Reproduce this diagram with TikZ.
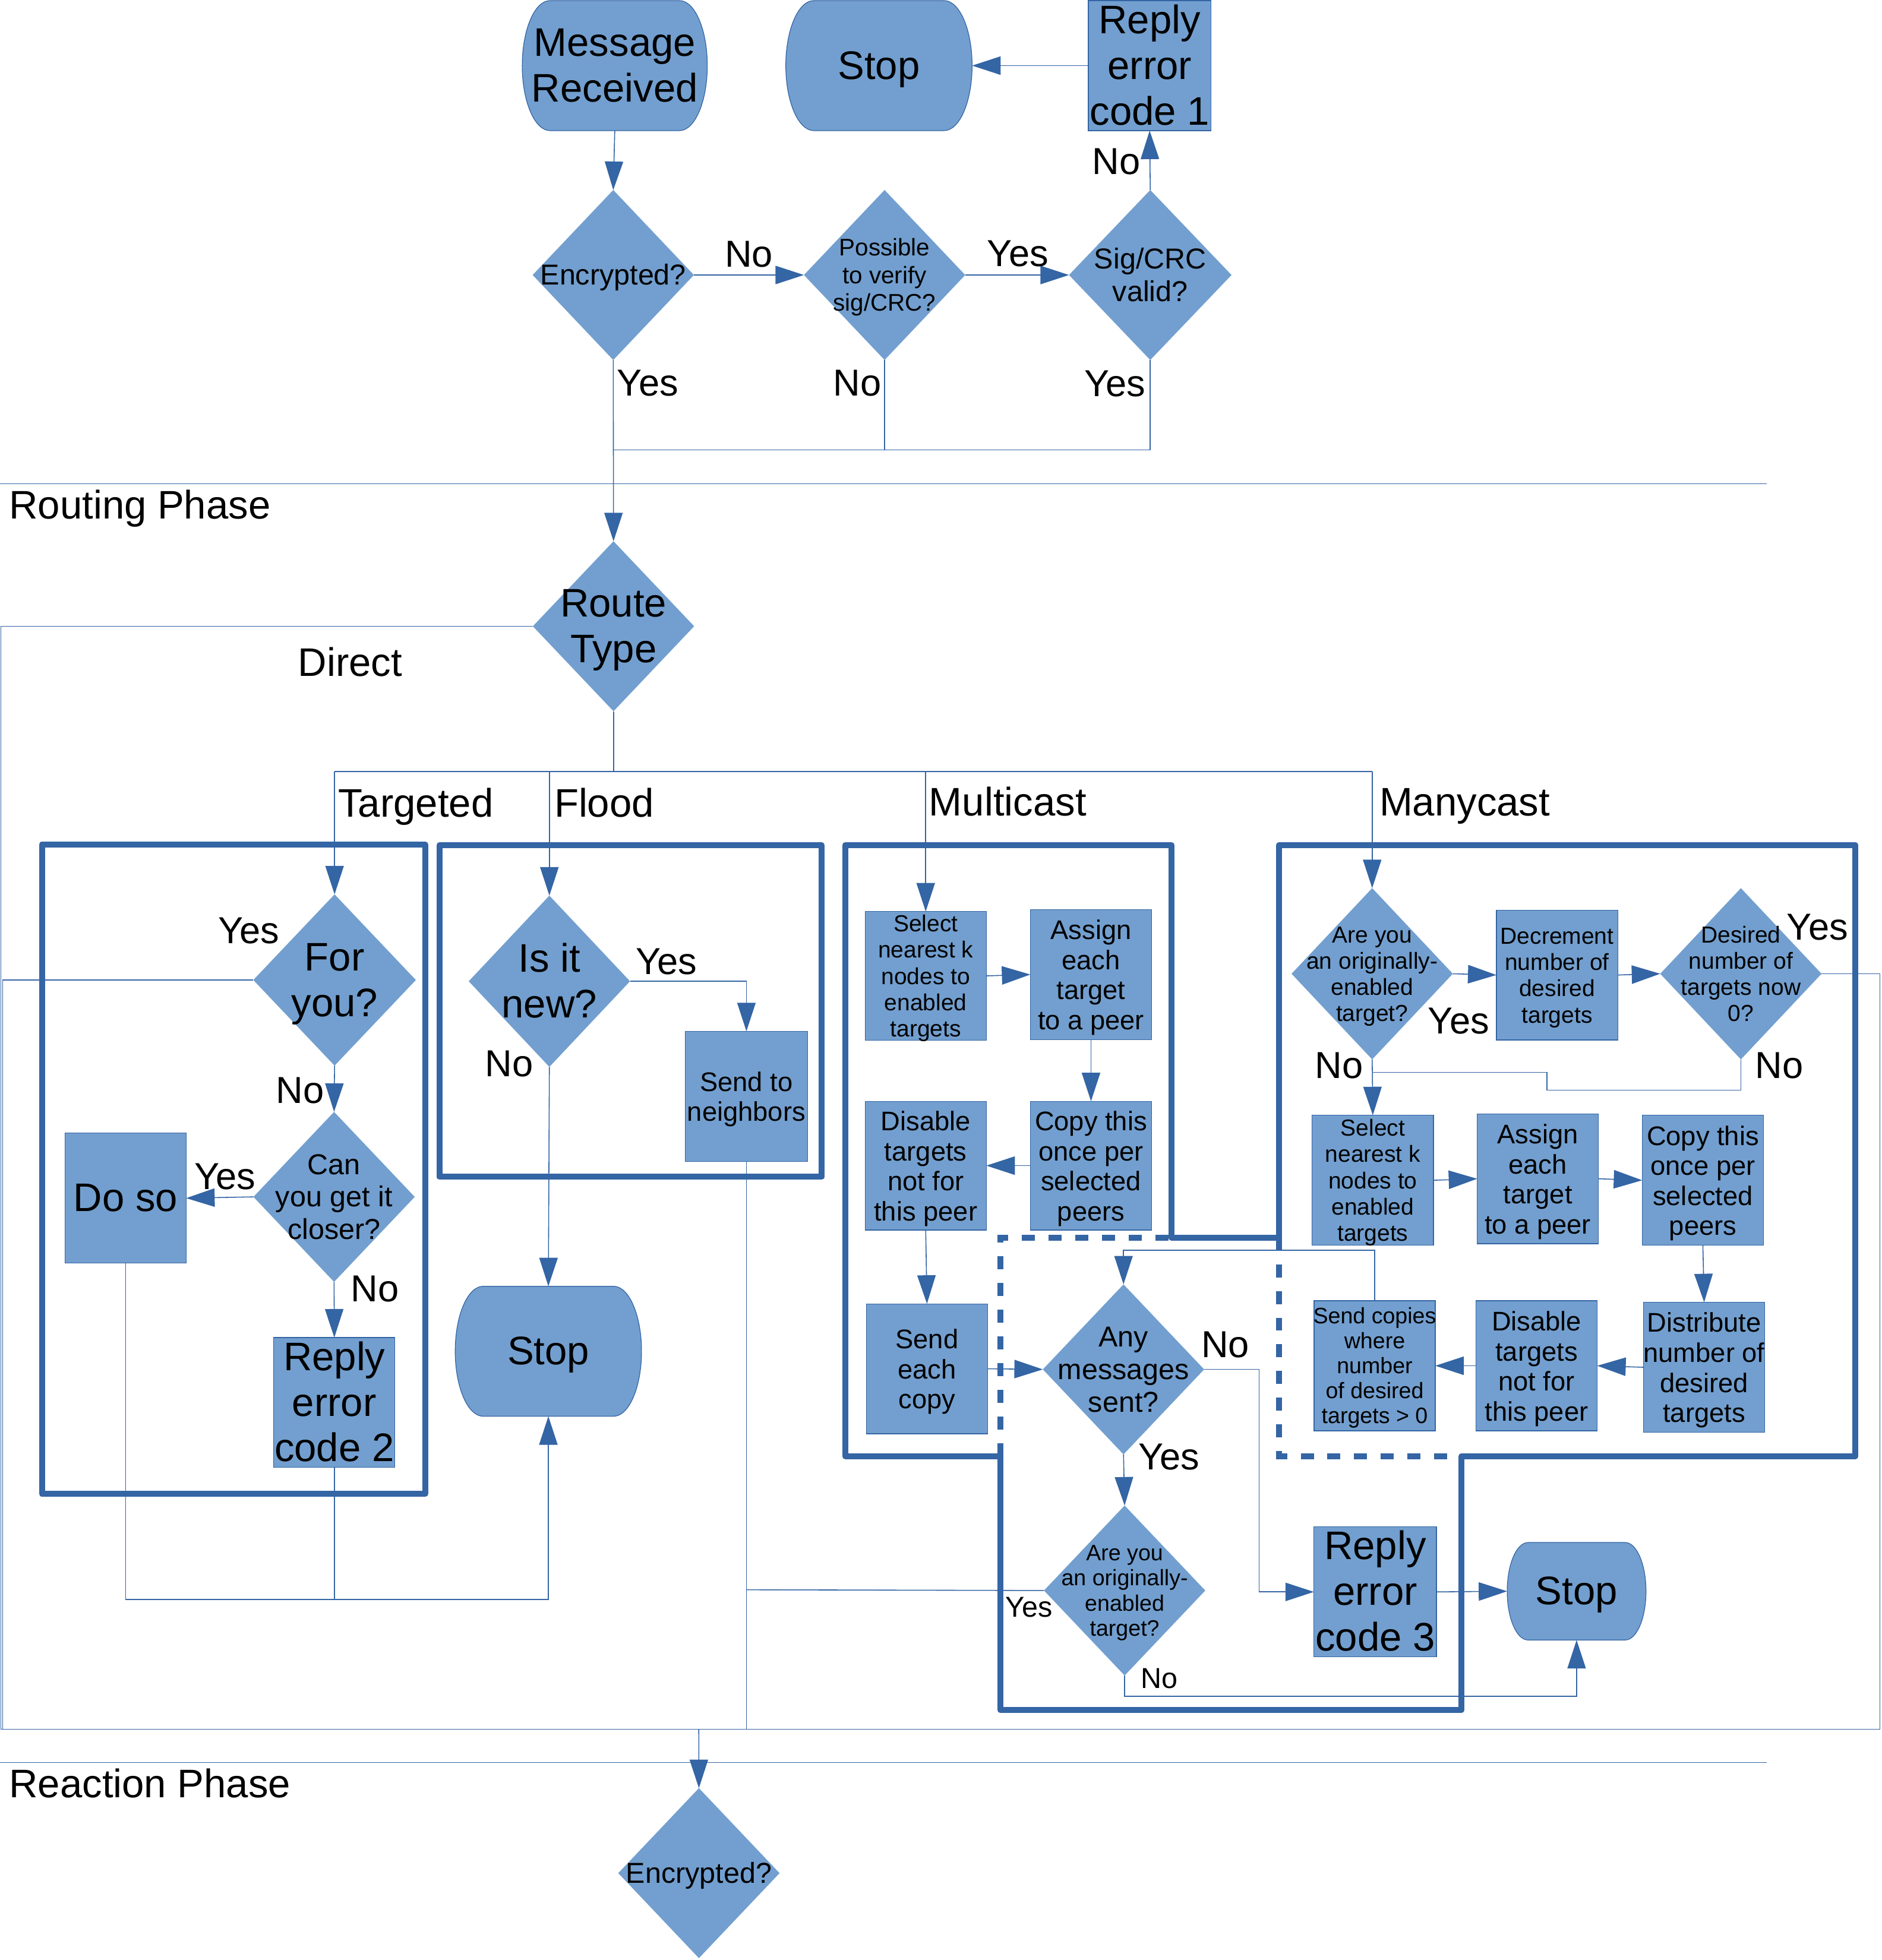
\documentclass[tikz,border=0pt]{standalone}
\usepackage{fontspec}
\setmainfont{Liberation Sans}
\usetikzlibrary{shapes.geometric,arrows.meta}

\definecolor{lofill}{HTML}{729FCF}
\definecolor{loline}{HTML}{3465A4}

% drawing unit
\newlength\U
\setlength\U{0.02105cm}

% centred multi-line text that does not widen its shape
\newcommand\dtext[1]{\raisebox{-0.38em}[0pt][0pt]{\makebox[0pt]{\begin{tabular}{@{}c@{}}#1\end{tabular}}}}

\tikzset{
  fL/.style={font=\fontsize{19.1pt}{21.9pt}\selectfont},
  fY/.style={font=\fontsize{18pt}{21pt}\selectfont},
  fMM/.style={font=\fontsize{13.8pt}{15.6pt}\selectfont},
  fM/.style={font=\fontsize{12.9pt}{14.4pt}\selectfont},
  fP/.style={font=\fontsize{11.5pt}{13.2pt}\selectfont},
  fS/.style={font=\fontsize{11.1pt}{12.6pt}\selectfont},
  fXS/.style={font=\fontsize{10.7pt}{12pt}\selectfont},
  sz/.style 2 args={minimum width=#1\U, minimum height=#2\U},
  box/.style={rectangle, fill=lofill, draw=loline, line width=0.35pt, inner sep=0pt, outer sep=0pt},
  dia/.style={diamond, fill=lofill, inner sep=0pt, outer sep=0pt},
  termfill/.style={fill=lofill, draw=loline, line width=0.35pt},
  termnode/.style={rectangle, inner sep=0pt, outer sep=0pt, fL},
  conn/.style={draw=loline, line width=0.45pt},
  arr/.style={conn, -{Triangle[length=0.48cm, width=0.31cm]}},
  frame/.style={draw=loline, line width=0.1cm, line join=round},
  dframe/.style={draw=loline, line width=0.1cm, dash pattern=on 0.22cm off 0.23cm},
  lbl/.style={inner sep=0pt, anchor=base},
  lblw/.style={inner sep=0pt, anchor=base west},
}

% terminator: name, cx, cy, width, height, text
\newcommand\termnode[6]{%
  \pgfmathsetmacro\TmL{#2-#4/2}%
  \pgfmathsetmacro\TmR{#2+#4/2}%
  \pgfmathsetmacro\TmT{#3-#5/2}%
  \pgfmathsetmacro\TmB{#3+#5/2}%
  \pgfmathsetmacro\TmX{0.15*#4}%
  \pgfmathsetmacro\TmK{0.5523*\TmX}%
  \pgfmathsetmacro\TmKy{0.5523*#5/2}%
  \path[termfill] (\TmL+\TmX,\TmT) -- (\TmR-\TmX,\TmT)
     .. controls (\TmR-\TmX+\TmK,\TmT) and (\TmR,#3-\TmKy) .. (\TmR,#3)
     .. controls (\TmR,#3+\TmKy) and (\TmR-\TmX+\TmK,\TmB) .. (\TmR-\TmX,\TmB)
     -- (\TmL+\TmX,\TmB)
     .. controls (\TmL+\TmX-\TmK,\TmB) and (\TmL,#3+\TmKy) .. (\TmL,#3)
     .. controls (\TmL,#3-\TmKy) and (\TmL+\TmX-\TmK,\TmT) .. (\TmL+\TmX,\TmT) -- cycle;
  \node[termnode, sz={#4}{#5}] (#1) at (#2,#3) {\dtext{#6}};
}

\begin{document}
\begin{tikzpicture}[x={(\U,0)}, y={(0,-\U)}]
\useasboundingbox (0,0) rectangle (1505,1568);

% ---------- group frames ----------
\path[frame] (33.5,675.6) rectangle (340,1195);
\path[frame] (351.5,676) rectangle (657,941.5);
\path[frame] (800,1165) -- (676,1165) -- (676,676) -- (937,676) -- (937,990)
  -- (1023,990) -- (1023,676) -- (1484,676) -- (1484,1165) -- (1169,1165)
  -- (1169,1368) -- (800,1368) -- cycle;
\path[dframe] (800,1165) -- (800,990) -- (937,990);
\path[dframe] (1023,990) -- (1023,1165) -- (1169,1165);

% ---------- phase separators ----------
\coordinate (ph1L) at (0,387);   \coordinate (ph1R) at (1413,387);
\coordinate (ph2L) at (0,1410);  \coordinate (ph2R) at (1413,1410);
\draw[conn] (ph1L) -- (ph1R);
\draw[conn] (ph2L) -- (ph2R);
\node[lblw, fL] (routingphase) at (7,415) {Routing Phase};
\node[lblw, fL] (reactionphase) at (7,1438) {Reaction Phase};

% ---------- message checks ----------
\termnode{msg}{491.7}{52.5}{148}{104}{Message\\Received}
\termnode{stopA}{703}{52.5}{149}{104}{Stop}
\node[box, sz={98}{104}, fL] (rep1) at (919.5,52.5) {\dtext{Reply\\error\\code 1}};
\node[dia, sz={129}{136}, fMM] (enc) at (490.5,220) {\dtext{Encrypted?}};
\node[dia, sz={129}{136}, fP] (poss) at (707.5,220) {\dtext{Possible\\to verify\\sig/CRC?}};
\node[dia, sz={130}{136}, fMM] (sig) at (920,220) {\dtext{Sig/CRC\\valid?}};
\node[dia, sz={129}{136}, fL] (route) at (490.7,501) {\dtext{Route\\Type}};

% ---------- targeted ----------
\node[dia, sz={130}{137}, fL] (forU) at (267.6,784) {\dtext{For\\you?}};
\node[dia, sz={129}{136}, fMM] (canU) at (267.2,957.5) {\dtext{Can\\you get it\\closer?}};
\node[box, sz={97}{104}, fL] (doso) at (100.4,958.5) {\dtext{Do so}};
\node[box, sz={97}{104}, fL] (rep2) at (267.4,1122) {\dtext{Reply\\error\\code 2}};

% ---------- flood ----------
\node[dia, sz={129}{137}, fL] (isnew) at (439.4,785) {\dtext{Is it\\new?}};
\node[box, sz={98}{104}, fM] (send) at (597,877) {\dtext{Send to\\neighbors}};
\termnode{stopB}{438.6}{1081}{149}{104}{Stop}

% ---------- multicast ----------
\node[box, sz={97}{103}, fS] (sel1) at (740.4,780.7) {\dtext{Select\\nearest k\\nodes to\\enabled\\targets}};
\node[box, sz={97}{104}, fM] (asg1) at (872.6,779.6) {\dtext{Assign\\each\\target\\to a peer}};
\node[box, sz={97}{103}, fM] (cpy1) at (872.6,932.5) {\dtext{Copy this\\once per\\selected\\peers}};
\node[box, sz={97}{103}, fM] (dis1) at (740.4,932.5) {\dtext{Disable\\targets\\not for\\this peer}};
\node[box, sz={97}{104}, fM] (sec) at (741.4,1095) {\dtext{Send\\each\\copy}};
\node[dia, sz={129}{136}, fMM] (any) at (898.6,1095.5) {\dtext{Any\\messages\\sent?}};
\node[dia, sz={129}{136}, fXS] (are2) at (899.5,1272.4) {\dtext{Are you\\an originally-\\enabled\\target?}};
\node[box, sz={98}{104}, fL] (rep3) at (1099.9,1273.5) {\dtext{Reply\\error\\code 3}};
\termnode{stopC}{1261}{1273}{111}{78}{Stop}

% ---------- manycast ----------
\node[dia, sz={129}{137}, fS] (are1) at (1097.5,779) {\dtext{Are you\\an originally-\\enabled\\target?}};
\node[box, sz={97}{104}, fS] (dec) at (1245.4,780) {\dtext{Decrement\\number of\\desired\\targets}};
\node[dia, sz={129}{137}, fS] (des) at (1392.4,779) {\dtext{Desired\\number of\\targets now\\0?}};
\node[box, sz={97}{104}, fS] (sel2) at (1098,944.2) {\dtext{Select\\nearest k\\nodes to\\enabled\\targets}};
\node[box, sz={97}{104}, fM] (asg2) at (1230,943) {\dtext{Assign\\each\\target\\to a peer}};
\node[box, sz={97}{104}, fM] (cpy2) at (1362,944.2) {\dtext{Copy this\\once per\\selected\\peers}};
\node[box, sz={97}{104}, fM] (dstr) at (1363,1093.8) {\dtext{Distribute\\number of\\desired\\targets}};
\node[box, sz={97}{104}, fM] (dis2) at (1229,1092.6) {\dtext{Disable\\targets\\not for\\this peer}};
\node[box, sz={97}{104}, fXS] (scp) at (1099.5,1092.6) {\dtext{Send copies\\where\\number\\of desired\\targets > 0}};

% ---------- reaction phase ----------
\node[dia, sz={129}{136}, fMM] (enc2) at (559,1498.5) {\dtext{Encrypted?}};

% ---------- junction points ----------
\coordinate (j1) at (490.5,360);
\coordinate (rj) at (490.7,617.2);
\coordinate (rjT) at (267.6,617.2);
\coordinate (rjF) at (439.4,617.2);
\coordinate (rjM) at (740.4,617.2);
\coordinate (rjR) at (1097.5,617.2);
\coordinate (dirA) at (0.8,501);
\coordinate (dirB) at (0.8,1383.4);
\coordinate (fyA) at (2.2,784);
\coordinate (fyB) at (2.2,1383.4);
\coordinate (botR) at (1503.5,1383.4);
\coordinate (botM) at (558.9,1383.4);
\coordinate (dyA) at (1503.5,779);
\coordinate (tb1) at (100.4,1279.6);
\coordinate (tb2) at (438.6,1279.6);
\coordinate (tb3) at (267.4,1279.6);
\coordinate (sendB) at (597,1383.4);
\coordinate (are2Y) at (597,1271.8);
\coordinate (anyNo) at (1007,1095.5);
\coordinate (are2No) at (899.5,1357);
\coordinate (scpUp) at (1099.5,1000.3);
\coordinate (desNo1) at (1392.4,872.2);
\coordinate (desNo2) at (1237.3,872.2);
\coordinate (desNo3) at (1237.3,857.8);
\coordinate (desNo4) at (1097.5,857.8);

% ---------- connectors: message checks ----------
\draw[arr] (msg.south) -- (enc.north);
\draw[arr] (enc.east) -- (poss.west);
\draw[arr] (poss.east) -- (sig.west);
\draw[arr] (sig.north) -- (rep1.south);
\draw[arr] (rep1.west) -- (stopA.east);
\draw[arr] (enc.south) -- (route.north);
\draw[conn] (poss.south) |- (j1);
\draw[conn] (sig.south) |- (j1);

% ---------- connectors: route type ----------
\draw[conn] (route.west) -- (dirA) -- (dirB) -- (botR);
\draw[conn] (route.south) -- (rj);
\draw[conn] (rjT) -- (rjR);
\draw[arr] (rjT) -- (forU.north);
\draw[arr] (rjF) -- (isnew.north);
\draw[arr] (rjM) -- (sel1.north);
\draw[arr] (rjR) -- (are1.north);
\draw[arr] (botM) -- (enc2.north);

% ---------- connectors: targeted ----------
\draw[conn] (forU.west) -- (fyA) -- (fyB);
\draw[arr] (forU.south) -- (canU.north);
\draw[arr] (canU.west) -- (doso.east);
\draw[arr] (canU.south) -- (rep2.north);
\draw[arr] (doso.south) -- (tb1) -- (tb2) -- (stopB.south);
\draw[conn] (rep2.south) -- (tb3);

% ---------- connectors: flood ----------
\draw[arr] (isnew.east) -| (send.north);
\draw[arr] (isnew.south) -- (stopB.north);
\draw[conn] (send.south) -- (sendB);

% ---------- connectors: multicast ----------
\draw[arr] (sel1.east) -- (asg1.west);
\draw[arr] (asg1.south) -- (cpy1.north);
\draw[arr] (cpy1.west) -- (dis1.east);
\draw[arr] (dis1.south) -- (sec.north);
\draw[arr] (sec.east) -- (any.west);
\draw[arr] (any.south) -- (are2.north);
\draw[arr] (any.east) -- (anyNo) |- (rep3.west);
\draw[conn] (are2.west) -- (are2Y);
\draw[arr] (are2.south) -- (are2No) -| (stopC.south);
\draw[arr] (rep3.east) -- (stopC.west);

% ---------- connectors: manycast ----------
\draw[arr] (are1.east) -- (dec.west);
\draw[arr] (dec.east) -- (des.west);
\draw[conn] (des.east) -- (dyA) -- (botR);
\draw[conn] (des.south) -- (desNo1) -- (desNo2) -- (desNo3) -- (desNo4);
\draw[arr] (are1.south) -- (sel2.north);
\draw[arr] (sel2.east) -- (asg2.west);
\draw[arr] (asg2.east) -- (cpy2.west);
\draw[arr] (cpy2.south) -- (dstr.north);
\draw[arr] (dstr.west) -- (dis2.east);
\draw[arr] (dis2.west) -- (scp.east);
\draw[arr] (scp.north) -- (scpUp) -| (any.north);

% ---------- branch labels ----------
\node[lbl, fY] (tNo1) at (599,213.5) {No};
\node[lbl, fY] (tYes1) at (814,213) {Yes};
\node[lbl, fY] (tNo2) at (892.7,139.3) {No};
\node[lbl, fY] (tYes2) at (518,316.5) {Yes};
\node[lbl, fY] (tNo3) at (685.8,316.8) {No};
\node[lbl, fY] (tYes3) at (891.8,317) {Yes};
\node[lbl, fL] (direct) at (280,541) {Direct};
\node[lbl, fL] (targeted) at (332.5,653.5) {Targeted};
\node[lbl, fL] (flood) at (483.2,653.5) {Flood};
\node[lbl, fL] (multicast) at (806,652.5) {Multicast};
\node[lbl, fL] (manycast) at (1171.5,652.5) {Manycast};
\node[lbl, fY] (gYes1) at (199,755) {Yes};
\node[lbl, fY] (gNo1) at (240,882.5) {No};
\node[lbl, fY] (gYes2) at (180,951.4) {Yes};
\node[lbl, fY] (gNo2) at (300,1041.3) {No};
\node[lbl, fY] (fYes) at (533,779.3) {Yes};
\node[lbl, fY] (fNo) at (407.3,861.3) {No};
\node[lbl, fY] (mNo) at (980,1086) {No};
\node[lbl, fY] (mYes) at (935,1175.8) {Yes};
\node[lbl, fMM] (mYes2) at (823,1293.7) {Yes};
\node[lbl, fMM] (mNo2) at (927,1350.4) {No};
\node[lbl, fY] (yYes1) at (1166.6,826.8) {Yes};
\node[lbl, fY] (yNo1) at (1071,862.7) {No};
\node[lbl, fY] (yYes2) at (1453.7,751.8) {Yes};
\node[lbl, fY] (yNo2) at (1423,862.5) {No};
\end{tikzpicture}
\end{document}
